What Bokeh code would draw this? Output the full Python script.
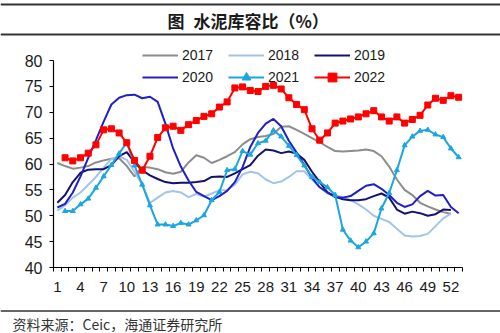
from bokeh.plotting import figure
from bokeh.models import Range1d, FixedTicker, Legend, LegendItem
from bokeh.embed import file_html
from bokeh.resources import INLINE
from bokeh.core.properties import value

# ---------------- data ----------------
title_mark = "图"
title_text = "水泥库容比（%）"
source_text = "资料来源：Ceic，海通证券研究所"
x_tick_labels = list(range(1, 53, 3))
y_ticks = [40, 45, 50, 55, 60, 65, 70, 75, 80]

weeks_2017 = list(range(1, 53))
vals_2017 = [60.2, 59.6, 59.1, 59.3, 59.6, 60.3, 60.7, 61.0, 61.1, 59.6, 57.6, 59.4, 59.3,
             59.0, 58.4, 58.1, 58.5, 60.3, 61.7, 61.2, 60.2, 60.8, 61.5, 62.3, 63.8, 64.8,
             65.2, 65.4, 65.8, 67.2, 67.3, 66.6, 65.8, 65.0, 64.2, 63.3, 62.5, 62.4, 62.5,
             62.6, 62.8, 62.5, 61.5, 59.5, 57.0, 55.0, 54.0, 52.5, 51.8, 51.2, 50.7, 50.4]

weeks_2018 = list(range(1, 53))
vals_2018 = [51.0, 52.0, 53.5, 54.5, 56.0, 57.5, 59.3, 61.0, 61.5, 60.8, 58.5, 56.0, 52.5,
             53.5, 54.5, 54.8, 54.5, 53.6, 54.2, 53.7, 54.3, 54.9, 55.0, 56.0, 58.0, 58.5,
             58.2, 57.0, 56.3, 56.6, 57.5, 58.6, 58.6, 57.0, 55.5, 54.3, 53.9, 53.6, 53.0,
             52.2, 51.2, 50.0, 49.4, 48.8, 47.5, 46.2, 46.0, 46.1, 46.5, 48.0, 49.5, 50.4]

weeks_2019 = list(range(1, 53))
vals_2019 = [52.5, 54.0, 56.5, 58.3, 58.9, 59.0, 59.0, 59.8, 61.5, 62.3, 60.3, 58.8, 57.8,
             57.1, 56.5, 56.3, 56.4, 56.4, 56.5, 56.7, 57.5, 57.6, 57.5, 58.2, 59.0, 59.8,
             61.6, 62.8, 62.6, 62.1, 62.4, 62.0, 60.8, 58.5, 56.5, 54.5, 53.7, 53.2, 53.0,
             53.0, 53.2, 53.8, 54.3, 53.5, 51.2, 50.4, 50.8, 50.5, 50.0, 50.3, 51.2, 51.1]

weeks_2020 = list(range(1, 54))
vals_2020 = [51.6, 52.3, 54.5, 57.6, 61.2, 64.6, 68.2, 71.5, 72.8, 73.3, 73.4, 72.7, 73.0,
             72.0, 67.8, 63.0, 59.5, 56.8, 54.6, 53.8, 53.0, 53.8, 54.8, 56.5, 59.4, 63.3,
             66.0, 67.8, 68.7, 67.3, 64.5, 62.2, 59.8, 57.3, 55.5, 54.5, 53.6, 53.5, 53.8,
             54.8, 55.8, 56.1, 55.2, 54.0, 52.5, 51.7, 52.2, 53.8, 54.8, 53.9, 54.0, 51.7, 50.5]

weeks_2021 = list(range(2, 54))
vals_2021 = [50.9, 50.9, 52.2, 53.3, 55.4, 57.6, 59.8, 62.0, 64.2, 59.7, 56.0, 52.0, 48.3,
             48.3, 48.0, 48.6, 48.3, 49.1, 50.1, 53.0, 54.6, 58.8, 59.0, 62.5, 61.8, 64.0,
             64.5, 66.5, 65.3, 63.5, 61.7, 59.7, 57.5, 56.5, 55.5, 54.0, 47.3, 45.2, 43.9,
             45.0, 46.6, 51.4, 54.4, 58.8, 63.6, 65.3, 66.4, 66.6, 65.7, 65.2, 63.0, 61.3]

weeks_2022 = list(range(2, 54))
vals_2022 = [61.2, 60.6, 61.2, 62.1, 63.7, 66.6, 66.8, 66.0, 64.1, 60.7, 58.8, 61.5, 65.1,
             67.0, 67.3, 66.5, 67.6, 68.4, 69.2, 69.7, 71.0, 72.0, 74.7, 74.9, 74.2, 74.0,
             75.0, 75.2, 74.5, 72.8, 71.5, 70.5, 66.8, 64.6, 66.0, 67.9, 68.3, 68.7, 69.1,
             69.7, 70.3, 69.1, 68.3, 69.1, 67.9, 68.6, 69.4, 71.4, 72.7, 72.3, 73.2, 72.9]

series_names = ["2017", "2018", "2019", "2020", "2021", "2022"]

# ---------------- layout helpers (canvas pixel -> data) ----------------
W, H = 500, 333
AX_L, AX_R = 53.0, 462.0      # x axis span in pixels (weeks 0.5 .. 53.5)
AX_T, AX_B = 60.0, 267.0      # y axis span in pixels (80 .. 40)
XMIN, XMAX = 0.5, 53.5
YMIN, YMAX = 40.0, 80.0


def cx(px):
    return XMIN + (px - AX_L) * (XMAX - XMIN) / (AX_R - AX_L)


def cy(py):
    return YMAX - (py - AX_T) * (YMAX - YMIN) / (AX_B - AX_T)


LAT = "Liberation Sans"
CJK = "Noto Sans CJK SC"
TXT = "#1a1a1a"

p = figure(width=W, height=H, x_range=Range1d(cx(0), cx(W)), y_range=Range1d(cy(H), cy(0)),
           toolbar_location=None, output_backend="svg", min_border=0,
           outline_line_color=None, title=None)
p.xgrid.visible = False
p.ygrid.visible = False

# axes placed at fixed data positions
p.xaxis.fixed_location = YMIN
p.xaxis.bounds = (XMIN, XMAX)
p.xaxis.ticker = FixedTicker(ticks=x_tick_labels, minor_ticks=[k + 0.5 for k in range(0, 54)])
p.xaxis.major_tick_out = 0
p.xaxis.major_tick_in = 0
p.xaxis.minor_tick_out = 4
p.xaxis.minor_tick_in = 0
p.xaxis.major_label_standoff = 10
p.xaxis.major_label_text_font_size = "15px"

p.yaxis.fixed_location = XMIN
p.yaxis.bounds = (YMIN, YMAX)
p.yaxis.ticker = FixedTicker(ticks=y_ticks)
p.yaxis.major_tick_out = 4
p.yaxis.major_tick_in = 0
p.yaxis.minor_tick_out = 0
p.yaxis.minor_tick_in = 0
p.yaxis.major_label_standoff = 7
p.yaxis.major_label_text_font_size = "16px"

for ax in (p.xaxis, p.yaxis):
    ax.axis_line_color = "black"
    ax.axis_line_width = 1.2
    ax.major_tick_line_color = "black"
    ax.minor_tick_line_color = "black"
    ax.major_label_text_font = LAT
    ax.major_label_text_color = TXT

# ---------------- series ----------------
r17 = p.line(weeks_2017, vals_2017, line_color="#8c8c8c", line_width=2)
r18 = p.line(weeks_2018, vals_2018, line_color="#a2c4e8", line_width=2)
r19 = p.line(weeks_2019, vals_2019, line_color="#12126e", line_width=2)
r20 = p.line(weeks_2020, vals_2020, line_color="#1f1fc6", line_width=2)
r21 = p.line(weeks_2021, vals_2021, line_color="#1ca6e0", line_width=2)
m21 = p.scatter(weeks_2021, vals_2021, marker="triangle", size=5, color="#1ca6e0")
r22 = p.line(weeks_2022, vals_2022, line_color="#ff0000", line_width=2)
m22 = p.scatter(weeks_2022, vals_2022, marker="square", size=6, color="#ff0000")

legend = Legend(items=[
    LegendItem(label=series_names[0], renderers=[r17]),
    LegendItem(label=series_names[1], renderers=[r18]),
    LegendItem(label=series_names[2], renderers=[r19]),
    LegendItem(label=series_names[3], renderers=[r20]),
    LegendItem(label=series_names[4], renderers=[r21, m21]),
    LegendItem(label=series_names[5], renderers=[r22, m22]),
], location=(142, H - 88), orientation="horizontal", ncols=3,
    glyph_width=36, glyph_height=22, label_height=22, label_width=46,
    label_standoff=4, spacing=0, padding=0, margin=0,
    label_text_font=LAT, label_text_font_size="14px", label_text_color=TXT,
    background_fill_alpha=0, border_line_alpha=0)
p.add_layout(legend, "center")

# ---------------- header & footer ----------------
p.segment(x0=[cx(0), cx(0)], y0=[cy(4), cy(34)], x1=[cx(W), cx(W)], y1=[cy(4), cy(34)],
          line_color="#333333", line_width=2)
p.text(x=[cx(167)], y=[cy(20)], text=[title_mark], text_align="left", text_baseline="middle",
       text_font=value(CJK), text_font_style="bold", text_font_size="17px", text_color=TXT)
p.text(x=[cx(193)], y=[cy(20)], text=[title_text], text_align="left", text_baseline="middle",
       text_font=value(CJK), text_font_style="bold", text_font_size="17px", text_color=TXT)

p.segment(x0=[cx(0)], y0=[cy(310.5)], x1=[cx(W)], y1=[cy(310.5)],
          line_color="#333333", line_width=1.5)
p.text(x=[cx(12)], y=[cy(323.5)], text=[source_text], text_align="left", text_baseline="middle",
       text_font=value(CJK), text_font_size="14px", text_color="#333333")

open("out.html", "w").write(file_html(p, INLINE))
